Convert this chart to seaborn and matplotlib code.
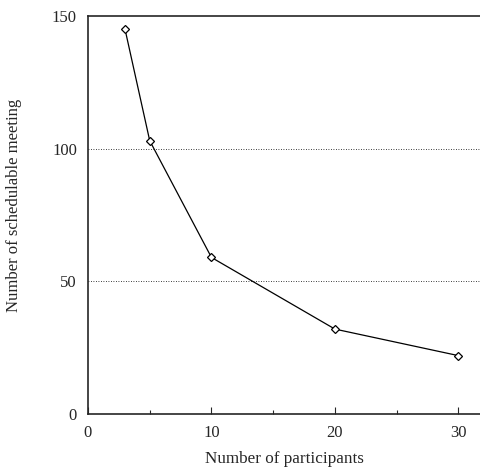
import numpy as np
import pandas as pd
import matplotlib
matplotlib.use("Agg")
import matplotlib.pyplot as plt
import seaborn as sns
from matplotlib.ticker import MultipleLocator

participants = [3, 5, 10, 20, 30]
meetings = [145, 103, 59, 32, 22]

df = pd.DataFrame({"participants": participants, "meetings": meetings})

sns.set_style("ticks")
plt.rcParams["font.family"] = ["Liberation Serif", "DejaVu Serif"]

fig = plt.figure(figsize=(4.8, 4.68), dpi=100)
ax = fig.add_axes([0.1833, 0.1154, 0.8167, 0.8504])

sns.lineplot(data=df, x="participants", y="meetings", ax=ax, color="black",
             linewidth=0.9, marker="D", markersize=4.5,
             markerfacecolor="white", markeredgecolor="black", markeredgewidth=0.9)

ax.set_xlim(0, 31.75)
ax.set_ylim(0, 150)
ax.set_xticks([0, 10, 20, 30])
ax.set_yticks([0, 50, 100, 150])
ax.xaxis.set_minor_locator(MultipleLocator(5))
ax.tick_params(axis="both", which="major", direction="in", length=5, width=0.8,
               labelsize=12, pad=8)
ax.tick_params(axis="x", which="minor", direction="in", length=3, width=0.8)
ax.tick_params(axis="y", which="major", length=0)

for y in [50, 100]:
    ax.axhline(y, color="black", linestyle=(0, (1, 2)), linewidth=0.6, zorder=0)

ax.spines["right"].set_visible(False)
for s in ["left", "bottom", "top"]:
    ax.spines[s].set_linewidth(1.2)

ax.set_xlabel("Number of participants", fontsize=12.3, labelpad=7)
ax.set_ylabel("Number of schedulable meeting", fontsize=12)
ax.yaxis.set_label_coords(-0.168, 0.523)

plt.savefig("out.png", dpi=100)
